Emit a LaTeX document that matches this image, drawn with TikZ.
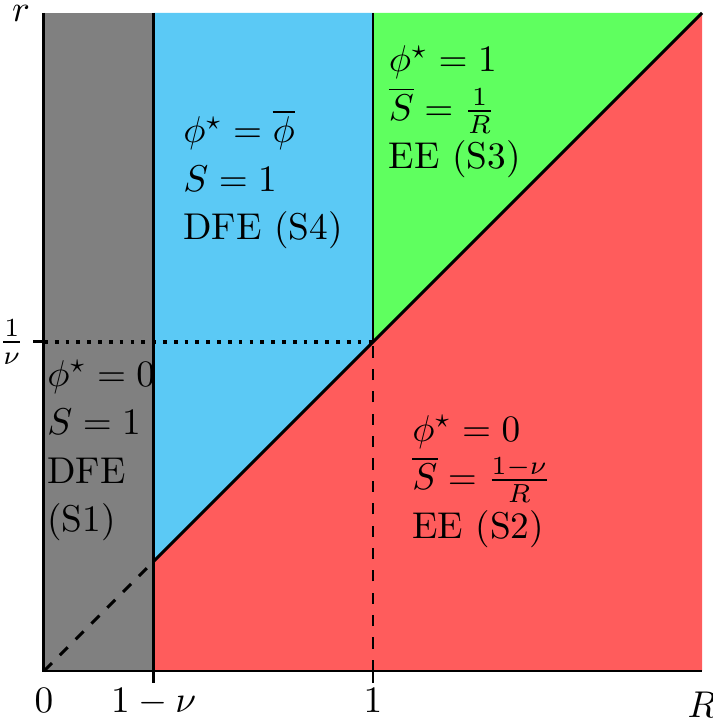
\documentclass[tikz,border=0pt]{standalone}
\usepackage{amsmath}
\definecolor{sgray}{RGB}{128,128,128}
\definecolor{sblue}{RGB}{91,201,245}
\definecolor{sgreen}{RGB}{95,255,95}
\definecolor{sred}{RGB}{255,92,92}
\begin{document}
\begin{tikzpicture}[x=3.1cm,y=3.1cm, line width=0.8pt,
  region/.style={anchor=base west, inner sep=0pt, text width=3cm, align=left, font=\fontsize{10}{13}\selectfont},
  ticklab/.style={anchor=north, inner sep=0pt}]
\useasboundingbox (-0.1337,-0.1459) rectangle (2.0334,2.0395);
\def\nn{0.3333}
\coordinate (O) at (0,0);
\coordinate (A) at (\nn,0);
\coordinate (B) at (1,0);
\coordinate (C) at (2,0);
\coordinate (T0) at (0,2);
\coordinate (TA) at (\nn,2);
\coordinate (TB) at (1,2);
\coordinate (TC) at (2,2);
\coordinate (D) at (\nn,\nn);
\coordinate (E) at (1,1);
\coordinate (Y) at (0,1);
\coordinate (At) at (\nn,-0.036);
\coordinate (Bt) at (1,-0.036);
\coordinate (Yt) at (-0.033,1);
% regions
\fill[sgray] (O) rectangle (TA);
\fill[sblue] (D) -- (E) -- (TB) -- (TA) -- cycle;
\fill[sgreen] (E) -- (TC) -- (TB) -- cycle;
\fill[sred] (A) -- (C) -- (TC) -- (D) -- cycle;
% lines
\draw (T0) -- (O) -- (C);
\draw (At) -- (TA);
\draw (E) -- (TB);
\draw (D) -- (TC);
\draw (B) -- (Bt);
\draw (Y) -- (Yt);
\draw[dashed] (O) -- (D);
\draw[dashed] (B) -- (E);
\draw[line width=1pt, dash pattern=on 1pt off 1.9pt] (Y) -- (E);
% axis labels
\node[ticklab] (l0) at (0,-0.0486) {$0$};
\node[ticklab] (lA) at (\nn,-0.0486) {$1-\nu$};
\node[ticklab] (lB) at (1,-0.0486) {$1$};
\node[anchor=north, inner sep=0pt] (lR) at (2,-0.058) {$R$};
\node[anchor=east, inner sep=0pt] (lY) at ([xshift=-1.9pt]Yt) {$\frac{1}{\nu}$};
\node[left] (lr) at (T0) {$r$};
% region texts
\node[region] (s1) at (0.006,0.866) {$\phi^\star=0$\\ $S=1$\\ DFE\\ (S1)};
\node[region] (s4) at (0.4195,1.605) {$\phi^\star=\overline{\phi}$\\ $S=1$\\ DFE (S4)};
\node[region] (s3) at (1.044,1.821) {$\phi^\star=1$\\ $\overline{S}=\frac{1}{R}$\\ EE (S3)};
\node[region] (s2) at (1.1155,0.699) {$\phi^\star=0$\\ $\overline{S}=\frac{1-\nu}{R}$\\ EE (S2)};
\end{tikzpicture}
\end{document}
